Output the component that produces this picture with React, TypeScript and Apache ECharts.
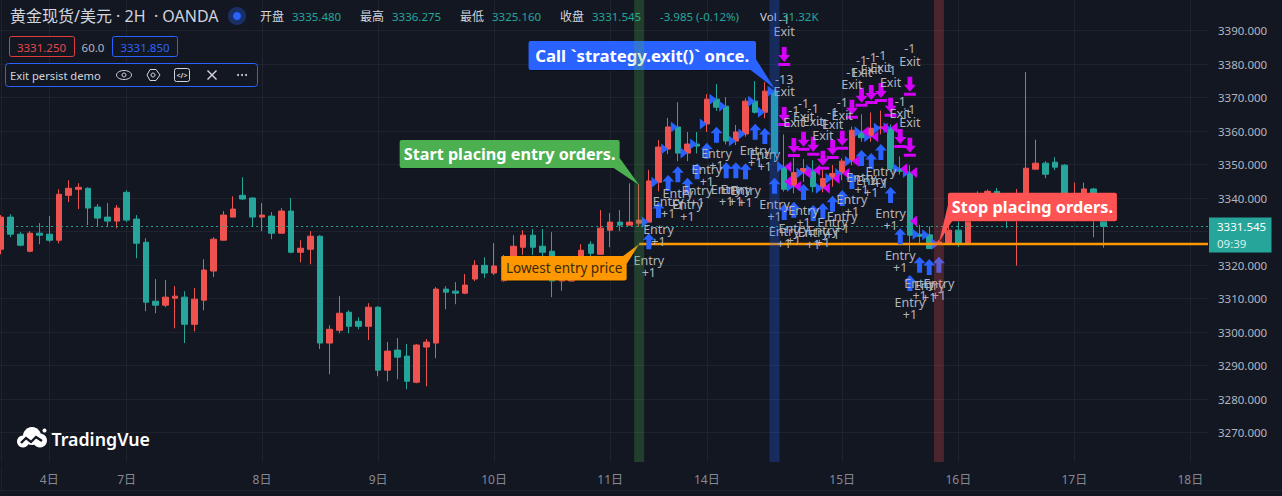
import React, { useEffect, useRef } from "react";
import * as echarts from "echarts";

const BG = "#131722";
const GRID = "#1f232e";
const UP = "#EF5350";
const DOWN = "#26A69A";
const BLUE = "#2962FF";
const MAGENTA = "#D500F9";
const ORANGE = "#FF9800";
const LABEL = "#B2B5BE";
const FONT = '"Noto Sans", "Noto Sans CJK SC", sans-serif';

const opens = [3324.7,3334.3,3329.2,3324.1,3329.5,3329.2,3327.4,3340.8,3342.6,3342.9,3337.3,3334.3,3333.1,3341.7,3333.7,3326.8,3309.2,3308.0,3310.1,3310.4,3302.3,3309.5,3318.2,3327.4,3334.3,3340.8,3340.0,3334.3,3334.6,3329.5,3336.1,3323.8,3324.7,3328.6,3296.7,3300.5,3305.9,3303.2,3301.7,3307.4,3288.6,3294.6,3292.8,3285.0,3295.5,3296.7,3312.8,3312.2,3311.6,3315.8,3319.9,3317.6,3315.3,3319.7,3325.3,3328.9,3325.6,3324.1,3315.2,3315.2,3320.0,3326.2,3323.2,3330.4,3332.8,3331.9,3332.5,3332.8,3344.7,3354.6,3361.2,3353.4,3356.1,3362.1,3369.5,3367.4,3357.0,3359.1,3368.9,3365.6,3371.9,3349.3,3343.4,3347.5,3348.3,3342.9,3345.8,3347.3,3351.0,3359.8,3358.3,3360.8,3361.0,3348.7,3347.6,3329.2,3329.0,3326.3,3326.4,3330.4,3326.4,3337.0,3339.0,3342.0,3339.0,3337.0,3338.0,3348.6,3350.4,3350.7,3349.8,3336.0,3338.0,3342.7,3335.48];
const closes = [3334.3,3329.2,3325.9,3329.5,3328.9,3327.4,3341.1,3342.9,3343.2,3337.0,3334.0,3333.1,3337.0,3333.4,3326.5,3308.9,3308.0,3310.4,3310.7,3302.3,3309.8,3318.5,3327.7,3334.9,3336.7,3339.7,3334.3,3334.9,3329.5,3336.1,3323.8,3325.0,3328.6,3296.7,3300.8,3305.6,3301.7,3301.7,3307.4,3288.6,3294.3,3292.5,3285.3,3296.1,3297.0,3312.8,3311.9,3311.6,3314.0,3319.9,3317.6,3319.7,3322.5,3325.6,3328.9,3325.3,3323.8,3315.2,3315.5,3319.7,3324.4,3323.5,3331.0,3332.8,3331.9,3332.8,3333.4,3345.1,3355.2,3361.2,3353.4,3356.1,3355.5,3369.5,3367.1,3357.0,3359.7,3368.9,3365.6,3371.9,3353.3,3342.6,3347.6,3348.8,3343.4,3345.8,3347.3,3351.0,3360.2,3358.0,3360.8,3361.2,3348.7,3348.0,3328.9,3328.6,3324.9,3326.9,3330.4,3326.4,3337.0,3341.0,3342.0,3339.0,3337.0,3338.0,3348.9,3350.4,3347.1,3349.2,3337.0,3338.0,3342.7,3335.0,3331.545];
const lows = [3323.2,3328.3,3325.6,3323.8,3326.2,3326.8,3326.5,3338.8,3336.7,3331.9,3331.6,3331.3,3331.0,3332.8,3322.0,3306.2,3305.6,3307.4,3301.1,3296.7,3300.2,3306.5,3316.4,3327.4,3334.3,3339.4,3331.6,3330.1,3327.7,3329.5,3323.5,3320.8,3320.2,3294.9,3287.4,3299.6,3299.6,3300.8,3297.6,3286.8,3285.3,3285.9,3282.9,3284.7,3283.8,3292.2,3306.8,3308.3,3311.3,3315.2,3316.1,3317.0,3315.0,3319.0,3323.0,3323.0,3318.0,3310.4,3312.3,3315.0,3319.0,3322.0,3323.2,3325.3,3330.1,3331.9,3331.5,3332.8,3342.0,3353.1,3351.0,3351.0,3353.3,3359.7,3366.0,3356.0,3355.8,3358.3,3365.2,3363.8,3351.0,3341.9,3341.4,3344.8,3341.7,3341.7,3343.4,3345.3,3349.8,3356.8,3356.8,3359.0,3347.8,3347.0,3323.9,3326.3,3324.8,3326.0,3326.0,3325.4,3326.0,3336.0,3338.0,3338.0,3331.0,3319.8,3338.0,3348.6,3345.9,3348.3,3337.0,3335.0,3336.0,3328.3,3325.16];
const highs = [3334.9,3335.2,3329.8,3330.1,3332.5,3334.6,3342.6,3345.3,3344.4,3343.2,3338.2,3338.5,3337.9,3342.3,3334.9,3328.0,3315.8,3315.5,3313.7,3312.2,3313.1,3321.7,3328.3,3336.1,3340.5,3346.2,3340.2,3338.5,3335.8,3337.0,3340.0,3327.4,3330.1,3328.9,3302.0,3310.7,3306.5,3304.4,3308.6,3307.7,3297.0,3298.2,3296.4,3296.4,3297.9,3313.4,3313.7,3314.9,3317.3,3321.4,3322.3,3326.5,3323.0,3328.9,3330.4,3330.7,3330.7,3329.8,3322.0,3322.0,3326.2,3327.1,3336.4,3335.5,3336.4,3344.4,3344.1,3348.4,3357.3,3363.9,3368.6,3359.7,3359.7,3371.0,3374.0,3370.1,3361.8,3369.8,3374.9,3374.6,3372.5,3359.0,3352.0,3351.6,3351.3,3348.8,3349.8,3351.8,3361.3,3365.0,3365.5,3366.1,3362.0,3352.4,3349.8,3332.0,3331.6,3327.5,3332.0,3333.0,3338.0,3342.0,3342.5,3343.0,3340.0,3342.7,3377.6,3357.4,3351.0,3352.2,3350.1,3344.6,3344.6,3343.0,3336.275];

const dayLabels: Record<number, string> = { 5: "4日", 13: "7日", 27: "8日", 39: "9日", 51: "10日", 63: "11日", 73: "14日", 87: "15日", 99: "16日", 111: "17日", 123: "18日" };
const categoryCount = 126;
const categories = Array.from({ length: categoryCount }, (_, i) => dayLabels[i] || "");

const lastPrice = 3331.545;
const lowestEntryPrice = 3326.26;
const lowestEntryStartBar = 66;

const startBar = 66;
const callBar = 80;
const stopBar = 97;

const entryBars = [67,68,69,70,71,72,73,74,75,76,77,78,79,80,81,82,83,84,85,86,87,88,89,90,91,92,93,94,95,96,97];
const entryArrowPrices = [3329.5,3338.8,3346.9,3349.5,3346.05,3350.4,3356.5,3361.3,3350.7,3350.7,3350.4,3362.2,3360.9,3346.05,3338.2,3338.9,3344.2,3337.9,3338.5,3340.7,3342.4,3347.5,3354.3,3353.4,3356.1,3343.3,3331.0,3317.0,3322.5,3321.8,3322.5];

const exitBars = [81,81,82,83,84,85,86,87,88,89,90,91,92,93,94,94];
const exitArrowPrices = [3385.1,3367.2,3357.9,3359.8,3358.3,3354.1,3357.3,3360.1,3369.3,3372.9,3373.7,3374.3,3369.9,3360.6,3376.2,3358.0];
const exitQuantities = [1,13,1,1,1,1,1,1,1,1,1,1,1,1,1,1];

const exitFillBars = [81,81,82,83,84,85,86,87,88,89,90,91,92,93,94,94];
const exitFillPrices = [3349.3,3344.9,3343.4,3347.5,3348.3,3342.9,3345.8,3347.3,3351.0,3359.8,3358.3,3360.8,3361.0,3348.7,3347.6,3333.1];

const callouts = [
  { text: "Start placing entry orders.", bar: startBar, price: 3343.9, color: "#4CAF50", ink: "#FFFFFF", font: `bold 16.2px ${FONT}`, box: [-239.5, -45, 220, 28], tail: [[-19.5, -27], [-27, -18]] },
  { text: "Call `strategy.exit()` once.", bar: callBar, price: 3372.7, color: BLUE, ink: "#FFFFFF", font: `bold 16.8px ${FONT}`, box: [-246, -47.5, 227.5, 29], tail: [[-19, -30], [-24, -18.5]] },
  { text: "Stop placing orders.", bar: stopBar, price: 3326.8, color: "#FF5252", ink: "#FFFFFF", font: `bold 16.3px ${FONT}`, box: [9, -49.5, 169, 28.5], tail: [[9, -37], [13, -21]] },
  { text: "Lowest entry price", bar: lowestEntryStartBar, price: lowestEntryPrice, color: ORANGE, ink: "#3A2A08", font: `13.5px ${FONT}`, box: [-137.5, 12, 125, 24.5], tail: [[-16, 12], [-12.5, 20]] },
];

const hText = (text: string, x: number, y: number, fill: string, font = `11.5px ${FONT}`, align = "left") => ({
  type: "text", z: 8, x, y, style: { text, fill, font, align, verticalAlign: "middle" },
});

const headerGraphics: any[] = [
  { type: "line", z: 1, shape: { x1: 0, y1: 490.5, x2: 1282, y2: 490.5 }, style: { stroke: GRID, lineWidth: 1 } },
  { type: "line", z: 1, shape: { x1: 1.5, y1: 0, x2: 1.5, y2: 490 }, style: { stroke: GRID, lineWidth: 1 } },
  hText("黄金现货/美元 · 2H  · OANDA", 10, 16, "#D1D4DC", `16px ${FONT}`),
  { type: "circle", z: 8, shape: { cx: 237, cy: 16, r: 9 }, style: { fill: "#1A2F66" } },
  { type: "circle", z: 8, shape: { cx: 237, cy: 16, r: 4 }, style: { fill: BLUE } },
  hText("开盘", 260, 16.5, "#D1D4DC", `12px ${FONT}`),
  hText("3335.480", 292, 16.5, DOWN),
  hText("最高", 360, 16.5, "#D1D4DC", `12px ${FONT}`),
  hText("3336.275", 392, 16.5, DOWN),
  hText("最低", 460, 16.5, "#D1D4DC", `12px ${FONT}`),
  hText("3325.160", 492, 16.5, DOWN),
  hText("收盘", 560, 16.5, "#D1D4DC", `12px ${FONT}`),
  hText("3331.545", 592, 16.5, DOWN),
  hText("-3.985 (-0.12%)", 660, 16.5, DOWN),
  hText("Vol", 760, 16.5, "#D1D4DC"),
  hText("31.32K", 782, 16.5, DOWN),
  { type: "rect", z: 8, shape: { x: 9.5, y: 36.5, width: 65, height: 20, r: 2 }, style: { fill: BG, stroke: "#E03C3C", lineWidth: 1 } },
  hText("3331.250", 41.5, 47, "#E5484A", `11.5px ${FONT}`, "center"),
  hText("60.0", 93, 47, LABEL, `11.5px ${FONT}`, "center"),
  { type: "rect", z: 8, shape: { x: 112.5, y: 36.5, width: 65, height: 20, r: 2 }, style: { fill: BG, stroke: BLUE, lineWidth: 1 } },
  hText("3331.850", 145, 47, BLUE, `11.5px ${FONT}`, "center"),
  { type: "rect", z: 8, shape: { x: 5.5, y: 63.5, width: 252, height: 23, r: 3 }, style: { fill: BG, stroke: BLUE, lineWidth: 1 } },
  hText("Exit persist demo", 10, 75.5, "#D1D4DC", `11.2px ${FONT}`),
  { type: "ellipse", z: 8, shape: { cx: 124, cy: 75, rx: 7.5, ry: 4.5 }, style: { fill: "none", stroke: "#D1D4DC", lineWidth: 1 } },
  { type: "circle", z: 8, shape: { cx: 124, cy: 75, r: 2 }, style: { fill: "none", stroke: "#D1D4DC", lineWidth: 1 } },
  { type: "polygon", z: 8, shape: { points: [[147, 75], [150, 69.5], [156, 69.5], [160, 75], [156, 80.5], [150, 80.5]] }, style: { fill: "none", stroke: "#D1D4DC", lineWidth: 1 } },
  { type: "circle", z: 8, shape: { cx: 153, cy: 75, r: 2 }, style: { fill: "none", stroke: "#D1D4DC", lineWidth: 1 } },
  { type: "rect", z: 8, shape: { x: 174.5, y: 68.5, width: 15, height: 13, r: 2 }, style: { fill: "none", stroke: "#D1D4DC", lineWidth: 1 } },
  hText("</>", 182, 75, "#D1D4DC", `bold 7px ${FONT}`, "center"),
  { type: "line", z: 8, shape: { x1: 207.5, y1: 70.5, x2: 216.5, y2: 79.5 }, style: { stroke: "#D1D4DC", lineWidth: 1.4 } },
  { type: "line", z: 8, shape: { x1: 216.5, y1: 70.5, x2: 207.5, y2: 79.5 }, style: { stroke: "#D1D4DC", lineWidth: 1.4 } },
  { type: "circle", z: 8, shape: { cx: 238, cy: 75, r: 1 }, style: { fill: "#D1D4DC" } },
  { type: "circle", z: 8, shape: { cx: 242, cy: 75, r: 1 }, style: { fill: "#D1D4DC" } },
  { type: "circle", z: 8, shape: { cx: 246, cy: 75, r: 1 }, style: { fill: "#D1D4DC" } },
  // logo
  { type: "circle", z: 8, shape: { cx: 32, cy: 436, r: 9 }, style: { fill: "#fff" } },
  { type: "circle", z: 8, shape: { cx: 23, cy: 441.5, r: 6 }, style: { fill: "#fff" } },
  { type: "circle", z: 8, shape: { cx: 40, cy: 440.5, r: 7 }, style: { fill: "#fff" } },
  { type: "circle", z: 8, shape: { cx: 44.5, cy: 430.5, r: 2 }, style: { fill: "#fff" } },
  { type: "polyline", z: 9, shape: { points: [[21, 443], [26, 438], [31, 442], [36, 437], [42, 441]] }, style: { fill: "none", stroke: BG, lineWidth: 2.4 } },
  hText("TradingVue", 51.5, 438.5, "#FFFFFF", `600 17.8px ${FONT}`),
  // right price tag
  { type: "rect", z: 30, shape: { x: 1209, y: 217.5, width: 62.5, height: 35 }, style: { fill: DOWN } },
  { type: "text", z: 31, x: 1217, y: 226.5, style: { text: "3331.545", fill: "#FFFFFF", font: `11.5px ${FONT}`, verticalAlign: "middle" } },
  { type: "text", z: 31, x: 1217, y: 243.5, style: { text: "09:39", fill: "#D8F0EC", font: `11.5px ${FONT}`, verticalAlign: "middle" } },
  // masks that end the plot area
  { type: "rect", z: 25, shape: { x: 1208, y: 0, width: 7, height: 470 }, style: { fill: BG } },
  { type: "rect", z: 25, shape: { x: 0, y: 462, width: 1215, height: 5 }, style: { fill: BG } },
];

const ARROW_UP = "path://M6 0 L12 6.5 L8.5 6.5 L8.5 16 L3.5 16 L3.5 6.5 L0 6.5 Z";
const ARROW_DOWN = "path://M3.6 0 H8.4 V8 H12 L6 15 L0 8 H3.6 Z M0 16 H12 V19 H0 Z";
const TRI_RIGHT = "path://M0 0 L7 5.5 L0 11 Z";
const TRI_LEFT = "path://M7 0 L0 5.5 L7 11 Z";

function renderCallout(params: any, api: any) {
  const c = callouts[params.dataIndex];
  const [ax, ay] = api.coord([api.value(0), api.value(1)]);
  const [bx, by, bw, bh] = c.box;
  return {
    type: "group",
    children: [
      { type: "rect", shape: { x: ax + bx, y: ay + by + 1, width: bw, height: bh, r: 2 }, style: { fill: "rgba(0,0,0,0.25)" } },
      { type: "rect", shape: { x: ax + bx, y: ay + by, width: bw, height: bh, r: 2 }, style: { fill: c.color } },
      { type: "polygon", shape: { points: [[ax, ay], [ax + c.tail[0][0], ay + c.tail[0][1]], [ax + c.tail[1][0], ay + c.tail[1][1]]] }, style: { fill: c.color } },
      { type: "text", x: ax + bx + bw / 2, y: ay + by + bh / 2, style: { text: c.text, fill: c.ink, font: c.font, align: "center", verticalAlign: "middle" } },
    ],
  };
}

const bandColors: Record<number, string> = {
  [startBar]: "rgba(76,175,80,0.27)",
  [callBar]: "rgba(41,98,255,0.27)",
  [stopBar]: "rgba(255,82,82,0.24)",
};

export default function App() {
  const ref = useRef<HTMLDivElement>(null);
  useEffect(() => {
    document.body.style.margin = "0";
    document.body.style.background = BG;
    const chart = echarts.init(ref.current!, undefined, { renderer: "svg" });
    const isTick = (i: number) => !!dayLabels[i];
    const candles = opens.map((o, i) => [o, closes[i], lows[i], highs[i]]);
    chart.setOption({
      animation: false,
      backgroundColor: BG,
      textStyle: { fontFamily: FONT },
      grid: { left: -3.9, top: -3, width: 1218.42, height: 469, containLabel: false, outerBoundsMode: "none" },
      xAxis: {
        type: "category",
        data: categories,
        axisLine: { show: false },
        axisTick: { show: false },
        axisLabel: { interval: (i: number) => isTick(i), margin: 7, color: "#868993", fontSize: 12, fontFamily: FONT },
        splitLine: { show: true, interval: (i: number) => isTick(i), alignWithLabel: true, lineStyle: { color: GRID, width: 1 } },
      },
      yAxis: {
        type: "value",
        position: "right",
        min: 3260,
        max: 3400,
        interval: 10,
        axisLine: { show: false },
        axisTick: { show: false },
        axisLabel: {
          margin: 3.5,
          color: LABEL,
          fontSize: 11.5,
          fontFamily: FONT,
          showMinLabel: false,
          showMaxLabel: false,
          formatter: (v: number) => v.toFixed(3),
        },
        splitLine: { show: true, lineStyle: { color: GRID, width: 1 } },
      },
      graphic: { elements: headerGraphics },
      series: [
        {
          type: "candlestick",
          z: 2,
          barWidth: 6,
          data: candles,
          itemStyle: { color: UP, color0: DOWN, borderColor: UP, borderColor0: DOWN, borderWidth: 1 },
          markLine: {
            silent: true,
            symbol: "none",
            label: { show: false },
            data: [{ yAxis: lastPrice }],
            lineStyle: { color: DOWN, type: [2, 3], width: 1 },
          },
        },
        {
          type: "line",
          z: 5,
          showSymbol: false,
          data: categories.map((_, i) => (i >= lowestEntryStartBar ? lowestEntryPrice : null)),
          lineStyle: { color: ORANGE, width: 2.5 },
        },
        {
          type: "scatter",
          z: 4,
          symbol: TRI_RIGHT,
          symbolSize: [7, 11],
          symbolOffset: [-3.5, 0],
          data: entryBars.map((b) => [b, opens[b]]),
          itemStyle: { color: BLUE, opacity: 1 },
        },
        {
          type: "scatter",
          z: 4,
          symbol: TRI_LEFT,
          symbolSize: [7, 11],
          symbolOffset: [3.5, 0],
          data: exitFillBars.map((b, i) => [b, exitFillPrices[i]]),
          itemStyle: { color: MAGENTA, opacity: 1 },
        },
        {
          type: "scatter",
          z: 6,
          symbol: ARROW_UP,
          symbolSize: [12, 16],
          symbolOffset: [0, "50%"],
          data: entryBars.map((b, i) => [b, entryArrowPrices[i]]),
          itemStyle: { color: BLUE, opacity: 1 },
          label: {
            show: true,
            position: "bottom",
            distance: 5,
            formatter: "Entry\n+1",
            color: LABEL,
            fontSize: 12.5,
            lineHeight: 12,
            fontFamily: FONT,
            align: "center",
          },
        },
        {
          type: "scatter",
          z: 6,
          symbol: ARROW_DOWN,
          symbolSize: [12, 19],
          symbolOffset: [0, "50%"],
          data: exitBars.map((b, i) => [b, exitArrowPrices[i], exitQuantities[i]]),
          itemStyle: { color: MAGENTA, opacity: 1 },
          label: {
            show: true,
            position: "top",
            distance: 9,
            formatter: (p: any) => `-${p.value[2]}\nExit`,
            color: LABEL,
            fontSize: 12.5,
            lineHeight: 12.5,
            fontFamily: FONT,
            align: "center",
          },
        },
        {
          type: "custom",
          z: 10,
          renderItem: renderCallout,
          encode: { x: 0, y: 1 },
          data: callouts.map((c) => [c.bar, c.price]),
          silent: true,
        },
        {
          type: "bar",
          z: 20,
          barWidth: 10,
          silent: true,
          data: categories.map((_, i) =>
            bandColors[i] ? { value: 3400, itemStyle: { color: bandColors[i] } } : null
          ),
        },
      ],
    });
    return () => chart.dispose();
  }, []);
  return <div ref={ref} style={{ width: 1282, height: 496 }} />;
}
